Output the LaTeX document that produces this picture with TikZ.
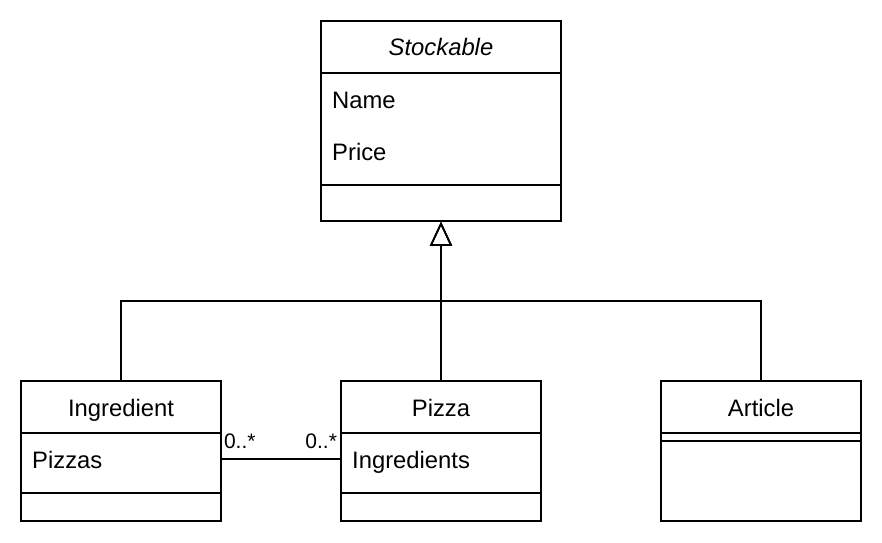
\documentclass[tikz,border=0pt]{standalone}
\usepackage{fontspec}
\setmainfont{Liberation Sans}
\usetikzlibrary{arrows.meta,positioning,calc}

\tikzset{
  classbox/.style={draw, rectangle, line width=1.6pt, inner sep=0pt, minimum width=200pt, minimum height=140pt},
  member/.style={inner sep=0pt, anchor=base west, font=\fontsize{23.8}{28}\selectfont},
  title/.style={inner sep=0pt, anchor=base, font=\fontsize{23.8}{28}\selectfont},
  mult/.style={inner sep=0pt, anchor=base, font=\fontsize{21}{24}\selectfont},
  inherit/.style={line width=1.6pt, -{Triangle[open, width=22pt, length=24pt, line width=1.6pt]}},
  assoc/.style={line width=1.6pt}
}

\begin{document}
\begin{tikzpicture}[x=1pt, y=-1pt]
      \useasboundingbox (0,0) rectangle (882,542);

      % classes
      \node (stockable) [classbox, minimum width=240pt, minimum height=200pt] at (441,121) {};
      \node (ingredient) [classbox] at (121,451) {};
      \node (pizza) [classbox] at (441,451) {};
      \node (article) [classbox] at (761,451) {};

      % compartments
      \draw [line width=1.6pt] (stockable.west |- 0,73) -- (stockable.east |- 0,73);
      \draw [line width=1.6pt] (stockable.west |- 0,185) -- (stockable.east |- 0,185);
      \foreach \cls in {ingredient, pizza} {
        \draw [line width=1.6pt] (\cls.west |- 0,433) -- (\cls.east |- 0,433);
        \draw [line width=1.6pt] (\cls.west |- 0,493) -- (\cls.east |- 0,493);
      }
      \draw [line width=1.6pt] (article.west |- 0,433) -- (article.east |- 0,433);
      \draw [line width=1.6pt] (article.west |- 0,441) -- (article.east |- 0,441);

      % texts
      \node (stockabletitle) [title] at (441,55) {\itshape Stockable};
      \node (name) [member] at (332,108) {Name};
      \node (price) [member] at (332,160) {Price};
      \node (ingredienttitle) [title] at (121,416) {Ingredient};
      \node (pizzas) [member] at (32,468) {Pizzas};
      \node (pizzatitle) [title] at (441,416) {Pizza};
      \node (ingredients) [member] at (352,468) {Ingredients};
      \node (articletitle) [title] at (761,416) {Article};

      % generalisation
      \coordinate (join) at (441,301);
      \draw [inherit] (ingredient.north) |- (join) -- (stockable.south);
      \draw [inherit] (article.north) |- (join) -- (stockable.south);
      \draw [inherit] (pizza.north) -- (stockable.south);

      % association
      \draw [assoc] (ingredient.east |- 0,459) coordinate (assocleft) -- (pizza.west |- 0,459) coordinate (assocright);
      \node (multleft) [mult, anchor=base west] at ($(assocleft)+(2,-11)$) {0..*};
      \node (multright) [mult, anchor=base east] at ($(assocright)+(-3,-11)$) {0..*};
    \end{tikzpicture}
\end{document}
